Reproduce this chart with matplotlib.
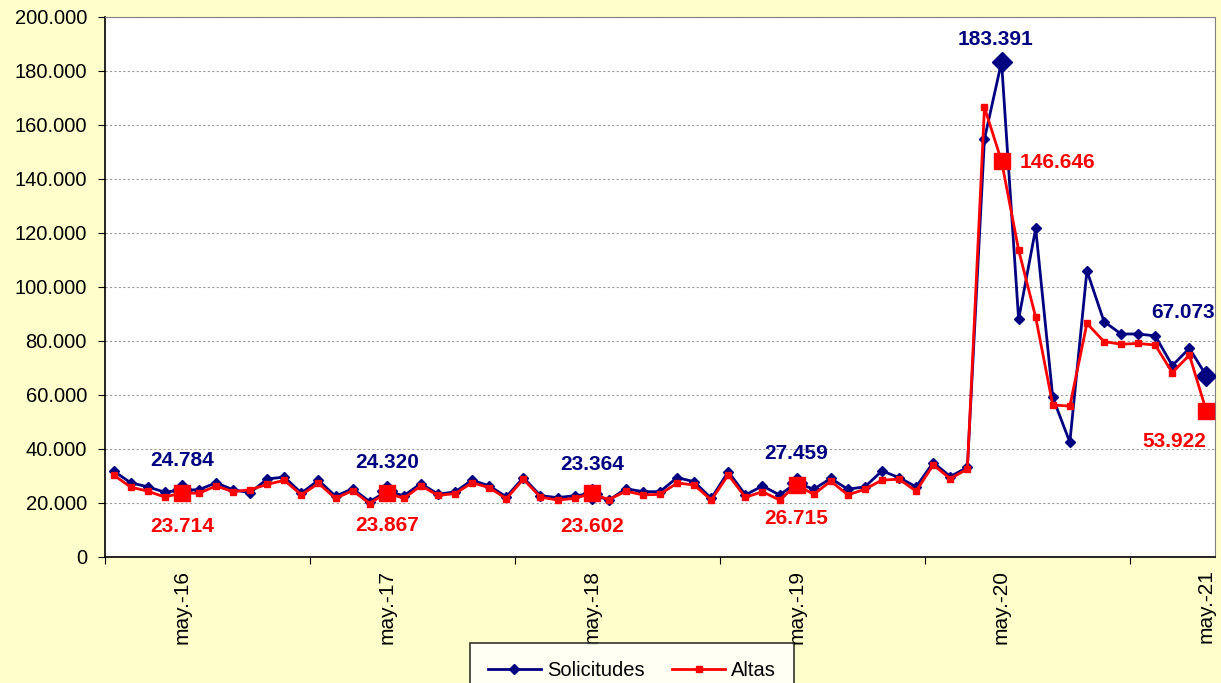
import matplotlib.pyplot as plt
from matplotlib.ticker import FuncFormatter

plt.rcParams['font.family'] = ['Liberation Sans', 'DejaVu Sans']

# Serie mensual ene-16 .. may-21 (miles)
solicitudes = [31.9, 27.5, 26.0, 24.0, 24.784, 24.9, 27.5, 24.9, 23.8, 28.9, 29.6, 23.7,
               28.4, 22.5, 25.3, 20.5, 24.320, 22.7, 27.2, 23.3, 24.1, 28.5, 26.3, 22.3,
               29.4, 22.7, 22.0, 22.7, 23.364, 21.0, 25.3, 24.2, 24.2, 29.4, 27.9, 21.7,
               31.6, 23.0, 26.3, 23.0, 27.459, 25.1, 29.1, 25.1, 26.0, 31.9, 29.4, 26.0,
               35.0, 29.8, 33.2, 154.8, 183.391, 88.0, 121.7, 59.1, 42.5, 106.0, 87.2, 82.6,
               82.6, 81.9, 70.9, 77.3, 67.073]
altas = [30.4, 25.9, 24.4, 22.2, 23.714, 23.6, 26.3, 24.2, 24.9, 26.9, 28.4, 23.0,
         27.3, 21.7, 24.6, 19.8, 23.867, 21.7, 26.4, 22.8, 23.5, 27.5, 25.7, 21.6,
         28.8, 22.2, 21.1, 21.7, 23.602, 21.2, 24.4, 23.0, 23.2, 27.4, 26.7, 21.1,
         30.4, 22.1, 24.2, 21.1, 26.715, 23.2, 28.1, 23.0, 25.1, 28.5, 28.8, 24.4,
         34.1, 29.0, 32.6, 166.5, 146.646, 113.7, 88.8, 56.3, 55.9, 86.5, 79.8, 78.8,
         79.1, 78.5, 68.3, 74.8, 53.922]
solicitudes = [v * 1000 for v in solicitudes]
altas = [v * 1000 for v in altas]

etiquetas_x = ['may.-16', 'may.-17', 'may.-18', 'may.-19', 'may.-20', 'may.-21']
idx_mayo = [4, 16, 28, 40, 52, 64]

AZUL = '#000080'
ROJO = '#FF0000'


def miles(v, pos=None):
    return f'{int(round(v)):,}'.replace(',', '.')


fig = plt.figure(figsize=(12.21, 6.83), dpi=100, facecolor='#FFFFCC')
ax = fig.add_axes([105 / 1221, 1 - 557 / 683, 1110 / 1221, 540 / 683])
ax.set_facecolor('white')

x = list(range(len(solicitudes)))
ax.plot(x, solicitudes, color=AZUL, lw=2, marker='D', ms=5, label='Solicitudes', zorder=3)
ax.plot(x, altas, color=ROJO, lw=2, marker='s', ms=5, label='Altas', zorder=4)
ax.plot(idx_mayo, [solicitudes[i] for i in idx_mayo], ls='none', marker='D', ms=10,
        color=AZUL, zorder=3)
ax.plot(idx_mayo, [altas[i] for i in idx_mayo], ls='none', marker='s', ms=11,
        color=ROJO, zorder=4)

# etiquetas de datos
fuente = dict(fontsize=15, fontweight='bold')
for i in idx_mayo[:4]:
    ax.annotate(miles(solicitudes[i]), (i, solicitudes[i]), xytext=(0, 21),
                textcoords='offset points', ha='center', va='center', color=AZUL, **fuente)
    ax.annotate(miles(altas[i]), (i, altas[i]), xytext=(0, -24),
                textcoords='offset points', ha='center', va='center', color=ROJO, **fuente)
i = idx_mayo[4]
ax.annotate(miles(solicitudes[i]), (i, solicitudes[i]), xytext=(-4, 16),
            textcoords='offset points', ha='center', va='center', color=AZUL, **fuente)
ax.annotate(miles(altas[i]), (i, altas[i]), xytext=(13, -1),
            textcoords='offset points', ha='left', va='center', color=ROJO, **fuente)
i = idx_mayo[5]
ax.annotate(miles(solicitudes[i]), (i, solicitudes[i]), xytext=(6, 46),
            textcoords='offset points', ha='right', va='center', color=AZUL, **fuente)
ax.annotate(miles(altas[i]), (i, altas[i]), xytext=(0, -22),
            textcoords='offset points', ha='right', va='center', color=ROJO, **fuente)

ax.set_xlim(-0.5, len(x) - 0.5)
ax.set_ylim(0, 200000)
ax.set_yticks(range(0, 200001, 20000))
ax.yaxis.set_major_formatter(FuncFormatter(miles))
ax.grid(axis='y', color='#999999', ls=(0, (2, 2)), lw=0.8)
ax.set_axisbelow(True)

ax.set_xticks([b - 0.5 for b in range(0, len(x), 12)])
ax.set_xticklabels([])
ax.set_xticks(idx_mayo, minor=True)
ax.set_xticklabels(etiquetas_x, minor=True, rotation=90, fontsize=15)
ax.tick_params(axis='x', which='minor', length=0, pad=9)
ax.tick_params(axis='x', which='major', length=5, direction='out', color='black')
ax.tick_params(axis='y', labelsize=14.5, length=5, direction='out', pad=8)

for s in ['top', 'right']:
    ax.spines[s].set_color('#808080')
for s in ['left', 'bottom']:
    ax.spines[s].set_color('black')
    ax.spines[s].set_linewidth(1.2)

leg = fig.legend(loc='upper center', bbox_to_anchor=(632 / 1221, 1 - 643 / 683), ncol=2,
                 frameon=True, fancybox=False, fontsize=14.5, handlelength=2.6,
                 borderpad=0.9, borderaxespad=0, columnspacing=1.4, handletextpad=0.3)
leg.get_frame().set_edgecolor('black')
leg.get_frame().set_facecolor('white')
leg.get_frame().set_linewidth(1.2)

fig.savefig('out.png', dpi=100, facecolor=fig.get_facecolor())
